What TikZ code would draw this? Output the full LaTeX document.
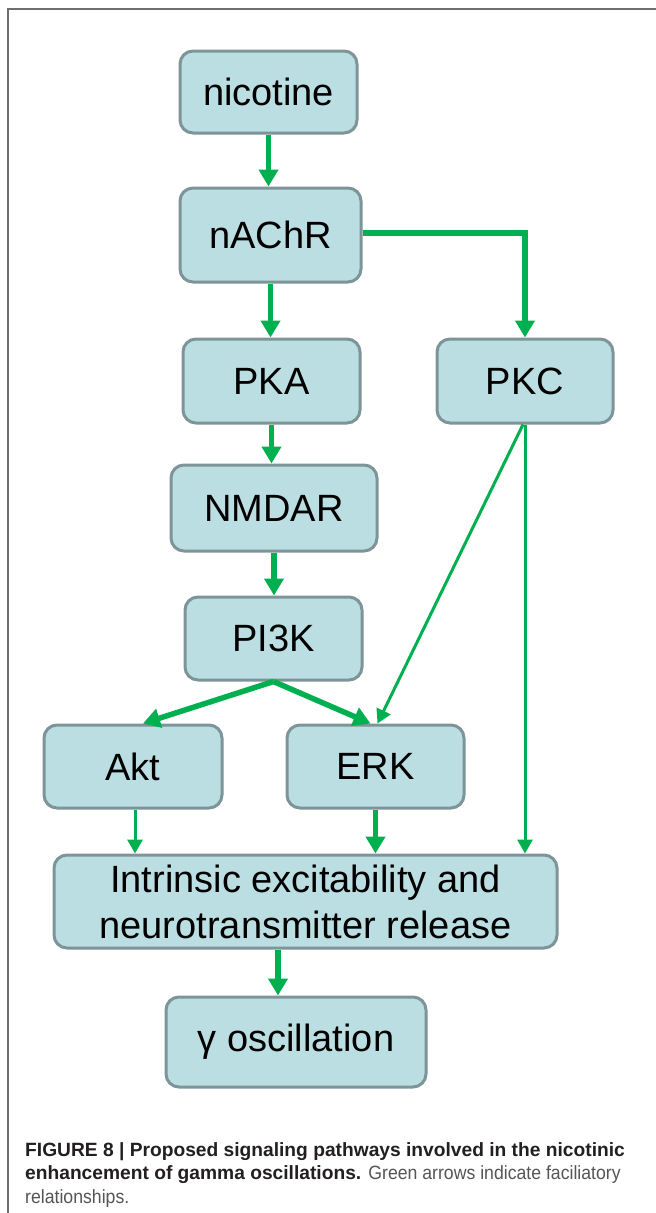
\documentclass[tikz,border=0pt]{standalone}
\usepackage{fontspec}
\setmainfont{Liberation Sans}
\newfontfamily\capregfont[FakeStretch=0.92]{Liberation Sans}
\usetikzlibrary{arrows.meta}
\definecolor{boxfill}{RGB}{187,222,226}
\definecolor{boxdraw}{RGB}{125,148,152}
\definecolor{arrowgreen}{RGB}{0,176,80}
\definecolor{framegray}{RGB}{110,110,110}
\definecolor{capdark}{RGB}{35,31,32}
\definecolor{capgray}{RGB}{85,85,85}
\begin{document}
\begin{tikzpicture}[x=1pt,y=-1pt,
  box/.style={draw=boxdraw, fill=boxfill, line width=3pt, rounded corners=13pt,
    inner sep=0pt, align=center, font=\fontsize{38}{46}\selectfont, text=black},
  fatarrow/.style={draw=arrowgreen, line width=5.5pt, -{Triangle[width=19pt,length=17pt]}},
  slimarrow/.style={draw=arrowgreen, line width=3pt, -{Triangle[width=15pt,length=14pt]}},
  capline/.style={anchor=base west, inner sep=0pt, align=left,
    font=\fontsize{19.2}{23.5}\selectfont, text=capgray}
]
\useasboundingbox (0,0) rectangle (656,1213);
\fill[white] (0,0) rectangle (656,1213);
\draw[framegray, line width=2pt] (8,1213) -- (8,9) -- (656,9);

\node[box, minimum width=177pt, minimum height=82pt] (nic) at (268.5,92) {nicotine};
\node[box, minimum width=181pt, minimum height=94pt] (nachr) at (270.5,235) {nAChR};
\node[box, minimum width=177pt, minimum height=84pt] (pka) at (271.5,381) {PKA};
\node[box, minimum width=176pt, minimum height=84pt] (pkc) at (525,381) {PKC};
\node[box, minimum width=206pt, minimum height=86pt] (nmdar) at (274,508) {NMDAR};
\node[box, minimum width=177pt, minimum height=83pt] (pi3k) at (273.5,638.5) {PI3K};
\node[box, minimum width=178pt, minimum height=83pt] (akt) at (133,766.5) {Akt};
\node[box, minimum width=177pt, minimum height=83pt] (erk) at (375.5,766.5) {ERK};
\node[box, minimum width=503pt, minimum height=93pt] (intr) at (305.5,901.5)
  {Intrinsic excitability and\\neurotransmitter release};
\node[box, minimum width=260pt, minimum height=90pt] (gam) at (296,1042) {γ oscillation};

\draw[fatarrow] (nic.south) -- (nic.south |- nachr.north);
\draw[fatarrow] (nachr.south) -- (nachr.south |- pka.north);
\draw[fatarrow] ([yshift=2pt]nachr.east) -| (pkc.north);
\draw[fatarrow] (pka.south) -- (pka.south |- nmdar.north);
\draw[fatarrow] (nmdar.south) -- (nmdar.south |- pi3k.north);
\draw[fatarrow] (pi3k.south) -- ([xshift=10pt]akt.north);
\draw[fatarrow] (pi3k.south) -- ([xshift=-5pt]erk.north);
\draw[slimarrow] ([xshift=-2pt]pkc.south) -- ([xshift=2pt]erk.north);
\draw[slimarrow] (pkc.south) -- (pkc.south |- intr.north);
\draw[slimarrow] ([xshift=2pt]akt.south) -- ([xshift=2pt]akt.south |- intr.north);
\draw[fatarrow] (erk.south) -- (erk.south |- intr.north);
\draw[fatarrow] ([xshift=-27.5pt]intr.south) -- ([xshift=-18pt]gam.north);

\node[capline] (cap) at (25,1203)
  {\textcolor{capdark}{\bfseries FIGURE 8 | Proposed signaling pathways involved in the nicotinic}\\
   \textcolor{capdark}{\bfseries enhancement of gamma oscillations.} {\capregfont Green arrows indicate faciliatory}\\
   {\capregfont relationships.}};
\end{tikzpicture}
\end{document}
